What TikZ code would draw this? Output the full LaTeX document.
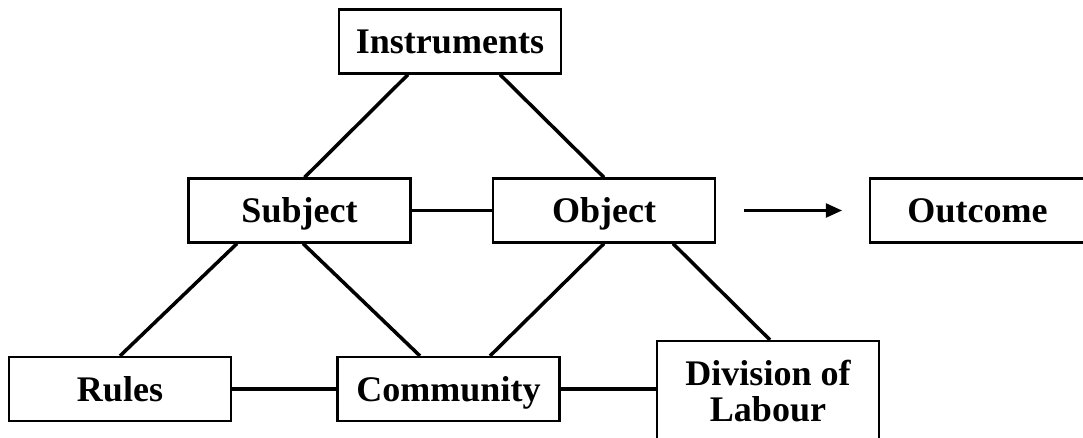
\documentclass[tikz,border=0pt]{standalone}
\usepackage{fontspec}
\setmainfont{Liberation Serif}
\usetikzlibrary{arrows.meta}
\begin{document}
\begin{tikzpicture}[x=0.02cm,y=-0.02cm]
        \tikzstyle{element}=[rectangle,draw=black,line width=1.2pt,minimum width=4.44cm,minimum height=1.28cm,inner sep=0pt,font=\fontsize{20.5}{21}\selectfont\bfseries,align=center]
        \tikzstyle{oneline}=[element,text height=13.7pt,text depth=0pt]
        \tikzstyle{link}=[draw,line width=2pt]
        \useasboundingbox (0,0) rectangle (1083,438);
       \begin{scope}
         \node [oneline] (inst) at (450,41.5) {Instruments};
         \node [oneline] (subj) at (299.5,210.5) {Subject};
         \node [oneline] (obj) at (604,210.5) {Object};
         \node [oneline,minimum width=4.3cm] (out) at (977.5,210.5) {Outcome};
         \node [oneline] (rules) at (120,389) {Rules};
         \node [oneline] (comm) at (448.5,389) {Community};
         \node [element,minimum height=2cm] (div) at (768,391) {Division of\\Labour};

         \path[link] ([xshift=-0.84cm]inst.south) -- ([xshift=0.1cm]subj.north);
         \path[link] ([xshift=1cm]inst.south) -- (obj.north);
         \path[link] (subj) -- (obj);
         \path[link] ([xshift=-1.25cm]subj.south) -- (rules.north);
         \path[link] ([xshift=0.07cm]subj.south) -- ([xshift=-0.57cm]comm.north);
         \path[link] (obj.south) -- ([xshift=0.83cm]comm.north);
         \path[link] ([xshift=1.38cm]obj.south) -- ([xshift=0.04cm]div.north);
         \path[link] (rules) -- (comm);
         \path[link] (comm.east) -- (comm.east -| div.west);
         \draw[line width=1.2pt,-{Triangle[length=0.32cm,width=0.28cm]},shorten <=0.56cm,shorten >=0.54cm] (obj) -- (out);
        \end{scope}
      \end{tikzpicture}
\end{document}
